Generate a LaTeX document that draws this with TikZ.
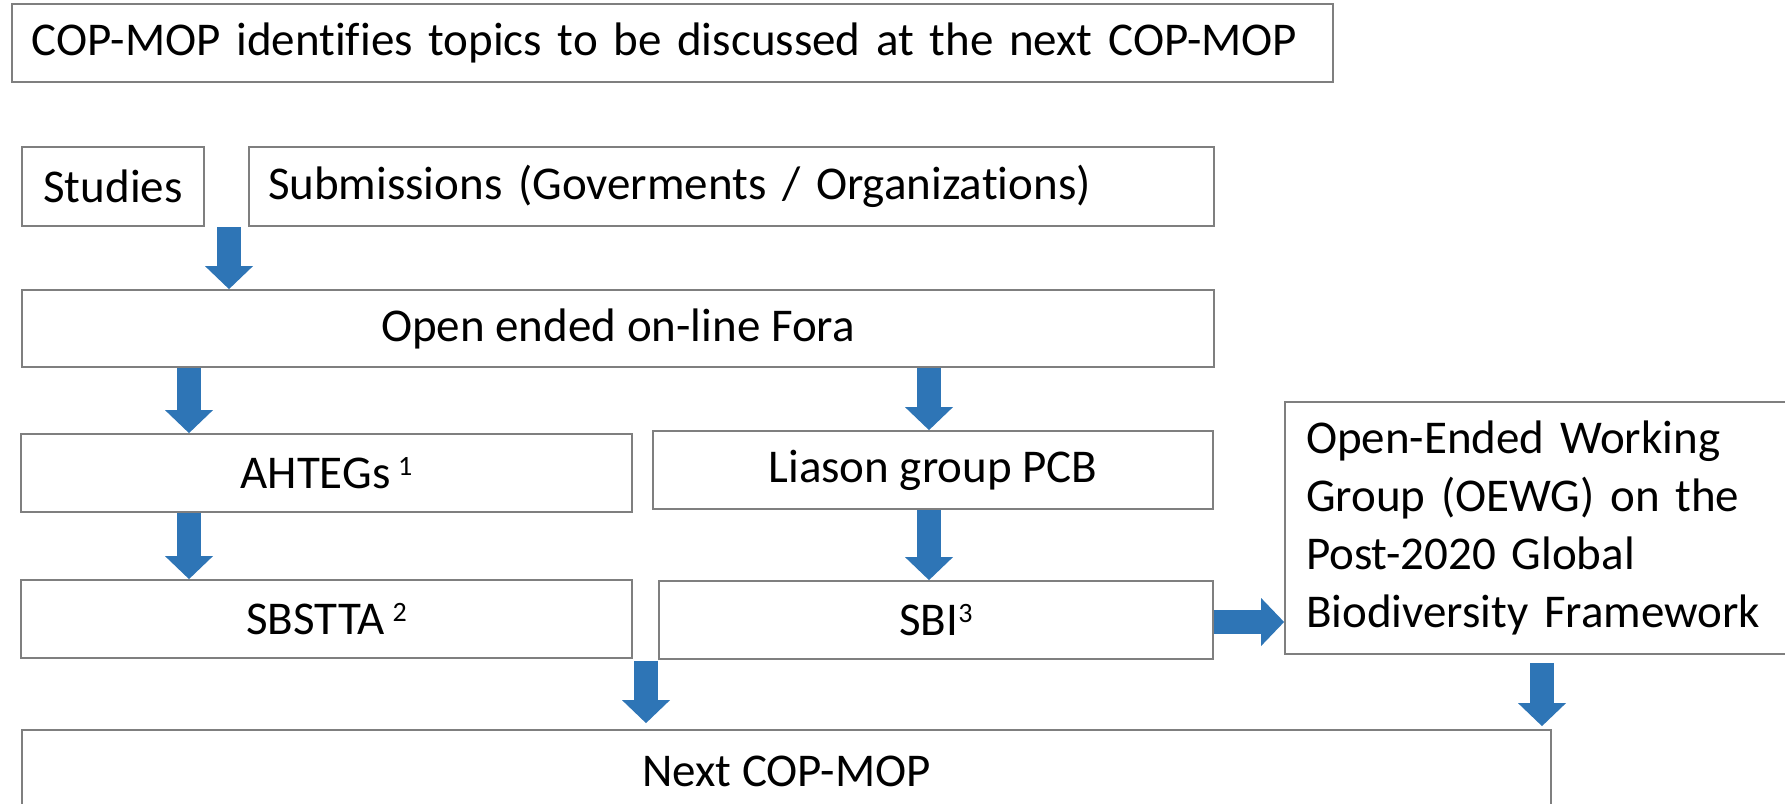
\documentclass[tikz,border=0pt]{standalone}
\usepackage{fontspec}
\setmainfont{Carlito}[Ligatures=CommonOff]
\usetikzlibrary{arrows.meta}
\definecolor{boxgray}{HTML}{7F7F7F}
\definecolor{flowblue}{HTML}{2E75B6}
\newcommand{\supnum}[1]{\raisebox{0.6ex}{\fontsize{14}{14}\selectfont #1}}
\tikzset{
  box/.style={draw=boxgray, line width=0.9pt, inner sep=0pt, align=center,
    font=\fontsize{23.5}{29}\selectfont},
  flow/.style={draw=flowblue, line width=12pt,
    -{Triangle[width=24pt,length=11.5pt,line width=0pt]}},
}
\begin{document}
\begin{tikzpicture}[x=0.5pt,y=-0.5pt]
\useasboundingbox (0,0) rectangle (1785,804);

% boxes (positions in pixel units, y grows downwards)
\node[box, text width=640.5pt, inner xsep=10pt, minimum height=39pt, align=left]
  (title) at (672.5,43) {COP-MOP identifies topics to be discussed at the next COP-MOP};
\node[box, minimum width=91pt, minimum height=39.5pt] (studies) at (113,186.5) {Studies};
\node[box, text width=463.5pt, inner xsep=9.5pt, minimum height=39.5pt, align=left]
  (subm) at (731.5,186.5) {Submissions (Goverments / Organizations)};
\node[box, minimum width=596pt, minimum height=38.5pt] (fora) at (618,328.5) {Open ended on-line Fora};
\node[box, minimum width=305.5pt, minimum height=39pt] (ahteg) at (326.5,473) {AHTEGs\,\supnum{1}};
\node[box, minimum width=280pt, minimum height=39pt] (liaison) at (933,470) {Liason group PCB};
\node[box, minimum width=305.5pt, minimum height=39pt] (sbstta) at (326.5,619) {SBSTTA\,\supnum{2}};
\node[box, minimum width=277pt, minimum height=39pt] (sbi) at (936,620) {SBI\supnum{3}};
\node[box, text width=236.5pt, inner xsep=10.5pt, minimum height=126pt, align=left]
  (oewg) at (1542.5,528) {Open-Ended Working\\ Group (OEWG) on the\\ Post-2020 Global\\ Biodiversity Framework};
\node[box, minimum width=764.5pt, minimum height=41pt] (next) at (786.5,771) {Next COP-MOP};

% arrow columns
\coordinate (xa) at (229,0);
\coordinate (xb) at (189,0);
\coordinate (xc) at (929,0);
\coordinate (xd) at (646,0);
\coordinate (xe) at (1542,0);
\coordinate (ya) at (0,622);

% arrows
\draw[flow] (studies.south -| xa) -- (fora.north -| xa);
\draw[flow] (fora.south -| xb) -- (ahteg.north -| xb);
\draw[flow] (fora.south -| xc) -- (liaison.north -| xc);
\draw[flow] (ahteg.south -| xb) -- (sbstta.north -| xb);
\draw[flow] (liaison.south -| xc) -- (sbi.north -| xc);
\draw[flow] (sbi.east |- ya) -- (oewg.west |- ya);
\draw[flow, shorten <=1pt, shorten >=3pt] (sbstta.south -| xd) -- (next.north -| xd);
\draw[flow, shorten <=4pt, shorten >=1.5pt] (oewg.south -| xe) -- (next.north -| xe);
\end{tikzpicture}
\end{document}
